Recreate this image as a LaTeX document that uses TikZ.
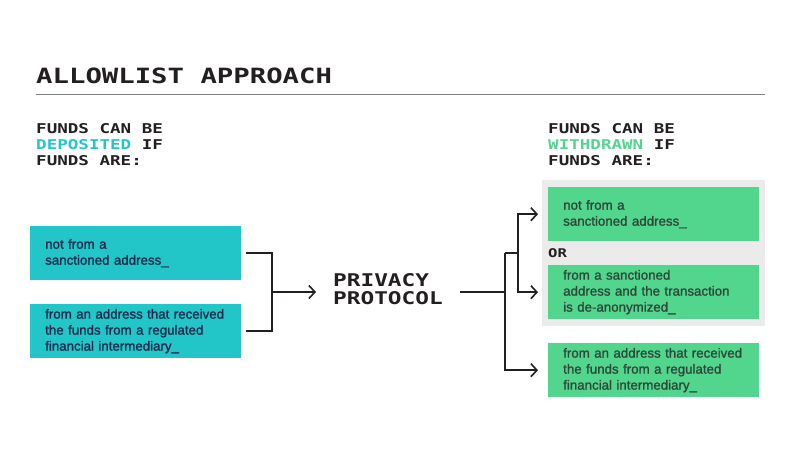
\documentclass[tikz,border=0pt]{standalone}
\usepackage{fontspec}
\setmainfont[FakeBold=1.2]{Liberation Sans}
\newfontfamily\pixfont[FakeStretch=1.3]{DejaVu Sans Mono}
\usetikzlibrary{arrows.meta}
\hyphenpenalty=10000

\definecolor{depcol}{HTML}{22C5C8}
\definecolor{deptext}{HTML}{1E2B4C}
\definecolor{wdcol}{HTML}{52D68E}
\definecolor{wdtext}{HTML}{2D4739}
\definecolor{orbg}{HTML}{EBEBEB}
\definecolor{linecol}{HTML}{231F20}

\tikzset{
    depbox/.style={fill=depcol, text=deptext, anchor=north west, minimum width=211pt,
        minimum height=54pt, text width=181pt, inner xsep=15pt, inner ysep=0pt,
        align=left, font=\fontsize{13.3}{16}\selectfont},
    wdbox/.style={depbox, fill=wdcol, text=wdtext},
    pixhead/.style={anchor=north west, inner sep=0pt, align=left, text=linecol,
        font=\pixfont\bfseries\fontsize{13.5}{16}\selectfont},
    conn/.style={draw=linecol, line width=1.6pt},
    arr/.style={conn, -{Straight Barb[length=6pt,width=13pt,line width=1.6pt]}}
}

\begin{document}
\begin{tikzpicture}[x=1pt, y=-1pt]
    \useasboundingbox (0,0) rectangle (800,450);

    % title
    \node[pixhead, font=\pixfont\bfseries\fontsize{21}{24}\selectfont] (title) at (36,68) {ALLOWLIST APPROACH};
    \draw[color=black!50, line width=0.9pt] (36,94) -- (765,94);

    % headers
    \node[pixhead] (dephead) at (36,123) {FUNDS CAN BE\\ \textcolor{depcol}{DEPOSITED} IF\\ FUNDS ARE:};
    \node[pixhead] (wdhead) at (548,123) {FUNDS CAN BE\\ \textcolor{wdcol}{WITHDRAWN} IF\\ FUNDS ARE:};

    % deposit conditions
    \node[depbox] (dep1) at (30,226) {not from a\\ sanctioned address\_};
    \node[depbox] (dep2) at (30,304) {from an address that received\\ the funds from a regulated\\ financial intermediary\_};

    % protocol
    \node[pixhead, inner xsep=17pt, font=\pixfont\bfseries\fontsize{17.5}{18}\selectfont] (prot) at (316,273) {PRIVACY\\ PROTOCOL};

    % withdrawal conditions
    \fill[orbg] (542,180) rectangle (765,326);
    \node[wdbox] (wd1) at (548,187) {not from a\\ sanctioned address\_};
    \node[pixhead, anchor=west, font=\pixfont\bfseries\fontsize{12}{13}\selectfont] (or) at (548,253) {OR};
    \node[wdbox] (wd2) at (548,265) {from a sanctioned\\ address and the transaction\\ is de-anonymized\_};
    \node[wdbox] (wd3) at (548,343) {from an address that received\\ the funds from a regulated\\ financial intermediary\_};

    \coordinate (jl) at (272,292);
    \coordinate (jr) at (505,292);
    \coordinate (ja) at (505,253);
    \coordinate (jb) at (518,253);

    \draw[conn, shorten <=5pt] (dep1.east) -| (jl);
    \draw[conn, shorten <=5pt] (dep2.east) -| (jl);
    \draw[arr] (jl) -- (jl -| prot.west);

    \draw[conn] (prot.east |- jr) -- (jr);
    \draw[conn] (ja) -- (jb);
    \draw[arr, shorten >=10pt] (ja) |- (wd3.west);
    \draw[arr, shorten >=10pt] (jb) |- (wd1.west);
    \draw[arr, shorten >=10pt] (jb) |- (wd2.west);
\end{tikzpicture}
\end{document}
